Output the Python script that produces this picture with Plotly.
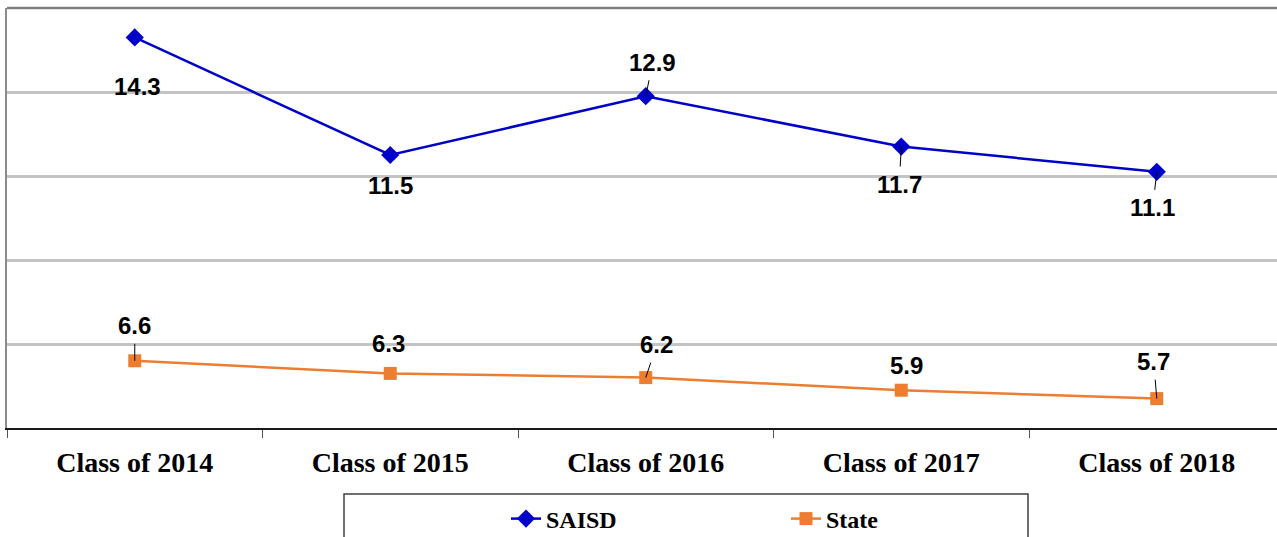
import plotly.graph_objects as go

# Graduating cohorts and rates for each series
classes = ["Class of 2014", "Class of 2015", "Class of 2016", "Class of 2017", "Class of 2018"]
saisd = [14.3, 11.5, 12.9, 11.7, 11.1]
state = [6.6, 6.3, 6.2, 5.9, 5.7]

# Pixel offsets of each data label from its point, and whether a leader line is drawn
saisd_label_dx = [3, 0, 7, -2, -4]
saisd_label_dy = [49, 30, -34, 38, 36]
saisd_leader = [True, False, True, True, True]
state_label_dx = [0, -2, 11, 5, -3]
state_label_dy = [-35, -30, -33, -25, -37]
state_leader = [True, False, True, False, True]

BLUE = "#0000C8"
ORANGE = "#ED7D31"
W, H = 1277, 537
ML, MT, MB = 7, 8, 109

xs = list(range(len(classes)))

fig = go.Figure()
fig.add_trace(go.Scatter(
    x=xs, y=saisd, name="SAISD", mode="lines+markers",
    line=dict(color=BLUE, width=2.5),
    marker=dict(symbol="diamond", size=14, color=BLUE),
))
fig.add_trace(go.Scatter(
    x=xs, y=state, name="State", mode="lines+markers",
    line=dict(color=ORANGE, width=2.5),
    marker=dict(symbol="square", size=13, color=ORANGE),
))

annotations = []
for vals, dxs, dys, leaders in [
    (saisd, saisd_label_dx, saisd_label_dy, saisd_leader),
    (state, state_label_dx, state_label_dy, state_leader),
]:
    for i, v in enumerate(vals):
        annotations.append(dict(
            x=i, y=v, xref="x", yref="y",
            text=f"{v:.1f}", showarrow=True,
            ax=dxs[i], ay=dys[i],
            arrowhead=0, arrowwidth=1, standoff=0,
            arrowcolor="#000000" if leaders[i] else "rgba(0,0,0,0)",
            borderpad=4,
            font=dict(family="Liberation Sans", size=24, color="#000000", weight="bold"),
        ))

plot_h = H - MB - MT
shapes = [
    # top border of the plotting area
    dict(type="line", xref="paper", yref="paper", x0=0, x1=1, y0=1, y1=1,
         line=dict(color="#7F7F7F", width=2.5)),
    # legend frame
    dict(type="rect", xref="paper", yref="paper",
         x0=(344 - ML) / (W - ML), x1=(1028 - ML) / (W - ML),
         y0=-(545 - (H - MB)) / plot_h, y1=-(494 - (H - MB)) / plot_h,
         line=dict(color="#404040", width=1.5), fillcolor="rgba(0,0,0,0)"),
]

fig.update_layout(
    width=W, height=H,
    margin=dict(l=ML, r=0, t=MT, b=MB, autoexpand=False),
    paper_bgcolor="white", plot_bgcolor="white",
    showlegend=True,
    legend=dict(
        orientation="h", x=(506 - ML) / (W - ML), xanchor="left",
        yref="container", y=1 - 519 / H, yanchor="middle",
        entrywidth=235, entrywidthmode="pixels",
        bgcolor="rgba(0,0,0,0)", borderwidth=0,
        font=dict(family="Liberation Serif", size=24, color="#000000", weight="bold"),
    ),
    annotations=annotations,
    shapes=shapes,
    xaxis=dict(
        range=[-0.5, (W - ML) / 255.5 - 0.5],
        tickmode="array", tickvals=xs, ticktext=classes,
        ticks="", showgrid=False, zeroline=False,
        showline=True, linecolor="#1A1A1A", linewidth=2,
        tickfont=dict(family="Liberation Serif", size=28, color="#000000", weight="bold"),
        ticklabelstandoff=8,
        minor=dict(tickmode="array", tickvals=[i - 0.5 for i in range(len(classes) + 1)],
                   ticks="outside", ticklen=8, tickwidth=1, tickcolor="#555555", showgrid=False),
    ),
    yaxis=dict(
        range=[5, 15], tickmode="array", tickvals=[7, 9, 11, 13],
        showticklabels=False, ticks="",
        showgrid=True, gridcolor="#C4C4C4", gridwidth=2.5,
        zeroline=False, showline=True, linecolor="#8C8C8C", linewidth=1.5,
    ),
)

fig.write_html("out.html")
